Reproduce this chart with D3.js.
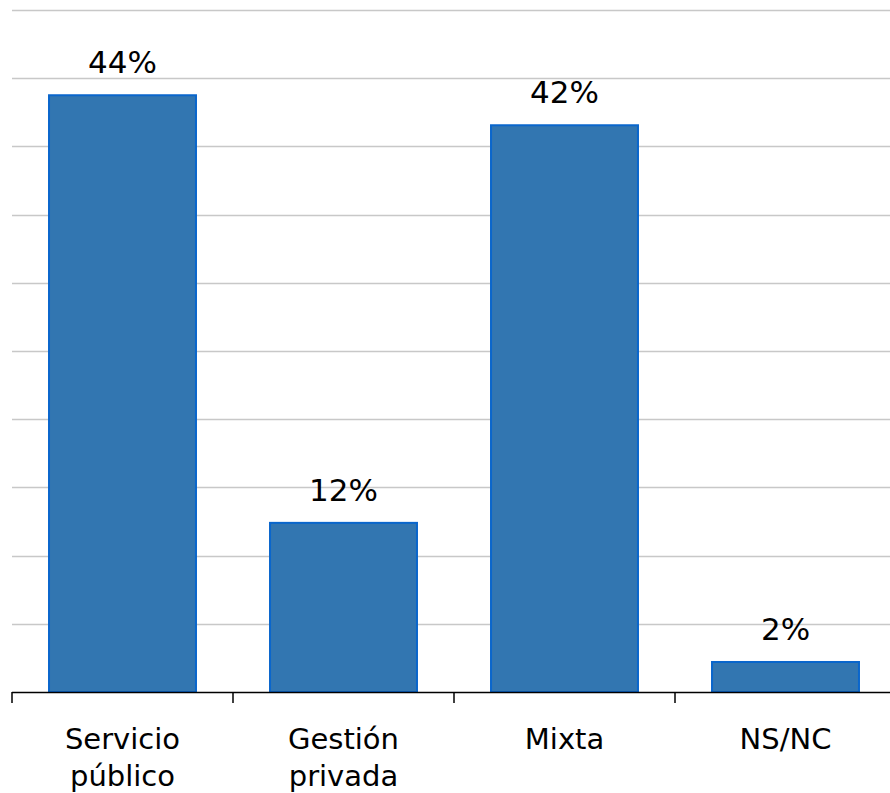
<!DOCTYPE html>
<html>
<head>
<meta charset="utf-8">
<script src="https://cdn.jsdelivr.net/npm/d3@7"></script>
<style>
  html, body { margin: 0; padding: 0; background: #fff; }
  svg { display: block; }
  text { font-family: "DejaVu Sans", Verdana, sans-serif; fill: #000; }
</style>
</head>
<body>
<svg id="chart" width="890" height="793"></svg>
<script>
// categories and values (percent)
const categories = [['Servicio', 'público'], ['Gestión', 'privada'], ['Mixta'], ['NS/NC']];
const values = [43.75, 12.4, 41.55, 2.2];
const valueLabels = ['44%', '12%', '42%', '2%'];
const gridTicks = [0, 5, 10, 15, 20, 25, 30, 35, 40, 45, 50];

const svg = d3.select('#chart');
const x0 = 12, x1 = 896, yBase = 692, yTop = 10;

const x = d3.scaleBand().domain(d3.range(categories.length)).range([x0, x1]).paddingInner(0.335).paddingOuter(0.1675);
const y = d3.scaleLinear().domain([0, 50]).range([yBase, yTop]);

// gridlines
svg.append('g')
  .selectAll('line')
  .data(gridTicks.slice(1))
  .join('line')
  .attr('x1', x0).attr('x2', 890)
  .attr('y1', d => Math.round(y(d)) + 0.5).attr('y2', d => Math.round(y(d)) + 0.5)
  .attr('stroke', '#c8c8c8').attr('stroke-width', 1.5);

// bars
svg.append('g')
  .selectAll('rect')
  .data(values)
  .join('rect')
  .attr('x', (d, i) => x(i))
  .attr('width', x.bandwidth())
  .attr('y', d => y(d))
  .attr('height', d => yBase - y(d))
  .attr('fill', '#3276b1')
  .attr('stroke', '#0a66cc')
  .attr('stroke-width', 2);

// value labels
svg.append('g')
  .selectAll('text')
  .data(values)
  .join('text')
  .attr('x', (d, i) => x(i) + x.bandwidth() / 2)
  .attr('y', d => y(d) - 22)
  .attr('text-anchor', 'middle')
  .attr('font-size', 31)
  .text((d, i) => valueLabels[i]);

// x axis
const bandStep = x.step();
const axisG = svg.append('g');
axisG.append('line')
  .attr('x1', x0).attr('x2', 890)
  .attr('y1', yBase + 0.5).attr('y2', yBase + 0.5)
  .attr('stroke', '#000').attr('stroke-width', 1.5);
axisG.selectAll('line.tick')
  .data(d3.range(categories.length + 1))
  .join('line')
  .attr('class', 'tick')
  .attr('x1', i => x0 + i * bandStep).attr('x2', i => x0 + i * bandStep)
  .attr('y1', yBase).attr('y2', yBase + 11)
  .attr('stroke', '#000').attr('stroke-width', 1.5);

// category labels
const lbl = svg.append('g')
  .selectAll('text')
  .data(categories)
  .join('text')
  .attr('x', (d, i) => x(i) + x.bandwidth() / 2)
  .attr('y', 749)
  .attr('text-anchor', 'middle')
  .attr('font-size', 29);
lbl.selectAll('tspan')
  .data(d => d)
  .join('tspan')
  .attr('x', function() { return d3.select(this.parentNode).attr('x'); })
  .attr('dy', (d, i) => i === 0 ? 0 : 37)
  .text(d => d);
</script>
</body>
</html>
